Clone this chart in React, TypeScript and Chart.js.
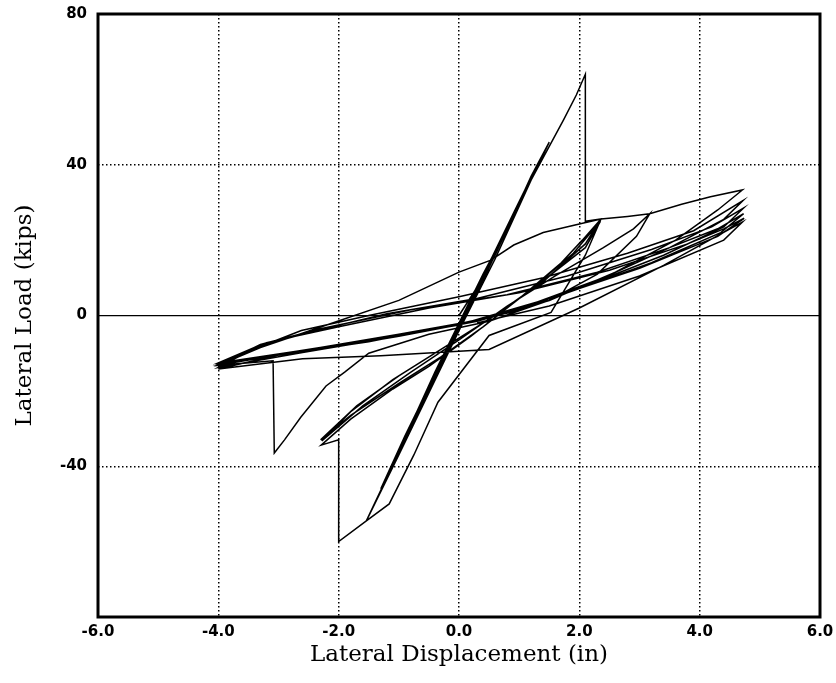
import React, { useEffect, useRef } from "react";
import { Chart, registerables } from "chart.js";

Chart.register(...registerables);

// Axis ticks
const xTickValues = [-6, -4, -2, 0, 2, 4, 6];
const yTickValues = [-80, -40, 0, 40, 80];
const hiddenYTick = -80;

// Lateral displacement (in), lateral load (kips) pairs, in loading order
const elasticCycles: [number, number][] = [
  [0, 0], [0.4, 10], [0.8, 23], [0.4, 11], [0, -2], [-0.4, -15], [-0.8, -29], [-0.4, -16], [0, -3],
  [0.5, 13], [1.1, 33], [1.3, 40], [0.9, 27], [0.2, 4], [-0.5, -19], [-1.1, -39], [-1.3, -46], [-0.9, -32], [-0.1, -6],
  [0.6, 16], [1.2, 37], [1.5, 46], [1.1, 33], [0.3, 6], [-0.5, -20], [-1.2, -43], [-1.54, -54.5], [-1.0, -37], [0, -4],
];

const firstPeakCycle: [number, number][] = [
  [0.6, 15], [1.2, 36], [1.74, 52], [1.95, 58.5], [2.1, 64], [2.1, 25], [2.36, 25.6],
  [2.1, 16], [1.53, 0.8], [0.5, -5.3], [-0.35, -23], [-0.75, -37], [-1.16, -50], [-1.54, -54.5],
  [-2.0, -60], [-2.0, -33], [-2.29, -34.4],
];

const secondCycles: [number, number][] = [
  [-1.8, -27.5], [-1.1, -19.5], [-0.5, -13.5], [0.2, -5.5], [1.0, 4.5], [1.7, 14], [2.05, 20], [2.36, 25.6],
  [2.1, 19], [1.4, 9], [0.6, 0], [-0.2, -8], [-1.0, -16], [-1.7, -24], [-2.3, -33],
  [-1.8, -26.5], [-1.0, -18], [-0.3, -11], [0.4, -3], [1.2, 7], [1.9, 16.5], [2.35, 25],
  [2.1, 18], [1.3, 8], [0.5, -1], [-0.3, -9], [-1.1, -17], [-1.8, -25.5], [-2.28, -33.3],
];

const thirdCycle: [number, number][] = [
  [-1.6, -24], [-0.8, -15], [0, -6.5], [0.8, 2.5], [1.6, 10.5], [2.4, 18], [2.9, 23], [3.17, 27],
  [2.95, 21], [2.3, 11], [1.5, 4], [0.5, -1.5], [-0.5, -5], [-1.5, -10], [-1.9, -15], [-2.21, -18.7],
  [-2.63, -27], [-2.9, -33], [-3.07, -36.5], [-3.09, -12], [-4.0, -13.2],
];

const largeCycles: [number, number][] = [
  [-3.3, -8.5], [-2.2, -2.5], [-1.0, 4], [0, 11.5], [0.53, 14.7], [0.91, 18.7], [1.4, 22], [2.0, 24.3],
  [2.36, 25.6], [2.8, 26.3], [3.17, 27], [3.7, 29.5], [4.18, 31.5], [4.71, 33.3],
  [4.3, 28], [3.6, 20], [2.6, 11.5], [1.5, 4], [0.3, -1.5], [-1.0, -5.5], [-2.6, -9.8], [-4.0, -13.8],
  [-3.5, -9.5], [-2.62, -4], [-1.5, 0], [0, 5], [1.4, 10], [2.8, 16.5], [3.9, 22.5], [4.72, 30.5],
  [4.4, 25.5], [3.5, 18], [2.4, 10], [1.2, 3], [0, -2.5], [-1.3, -6], [-2.7, -9.5], [-4.0, -12.6],
  [-3.4, -8.5], [-2.5, -4.5], [-1.2, 0.5], [0.3, 4.5], [1.8, 10.5], [3.2, 17.5], [4.2, 23.5], [4.73, 28.5],
  [4.4, 23.5], [3.4, 16], [2.2, 8.5], [0.9, 1], [-0.5, -4], [-2.0, -8], [-3.2, -11], [-4.0, -13.2],
  [-3.3, -7.7], [-2.3, -3.5], [-0.8, 1.5], [0.8, 5.5], [2.3, 11.5], [3.5, 18], [4.3, 23], [4.73, 27],
  [4.35, 22], [3.2, 14], [1.8, 6], [0.4, -1], [-1.0, -5], [-2.5, -9], [-3.5, -11.5], [-4.0, -12.9],
  [-3.2, -7.2], [-2.0, -3], [-0.5, 2], [1.0, 6], [2.5, 12], [3.8, 19], [4.4, 23], [4.74, 25.8],
  [4.3, 21], [3.0, 12.5], [1.6, 5], [0.2, -1.5], [-1.5, -7], [-3.0, -10.5], [-4.0, -14.2],
  [-2.6, -11.5], [-1.3, -10.7], [0.5, -9], [2.0, 2], [3.4, 13.3], [4.71, 24.8],
  [4.4, 20], [3.0, 10.5], [1.5, 2.5], [0.3, -2],
];

const loadPath = [
  ...elasticCycles,
  ...firstPeakCycle,
  ...secondCycles,
  ...thirdCycle,
  ...largeCycles,
];

const frameBorder = {
  id: "frameBorder",
  afterDraw(chart: any) {
    const { ctx, chartArea } = chart;
    ctx.save();
    ctx.strokeStyle = "#000";
    ctx.lineWidth = 3;
    ctx.strokeRect(
      chartArea.left,
      chartArea.top,
      chartArea.right - chartArea.left,
      chartArea.bottom - chartArea.top
    );
    ctx.restore();
  },
};

export default function App() {
  const canvasRef = useRef<HTMLCanvasElement | null>(null);

  useEffect(() => {
    if (!canvasRef.current) return;
    const chart = new Chart(canvasRef.current, {
      type: "scatter",
      data: {
        datasets: [
          {
            data: loadPath.map(([x, y]) => ({ x, y })),
            showLine: true,
            borderColor: "#000",
            borderWidth: 1.5,
            pointRadius: 0,
            tension: 0,
            fill: false,
          },
        ],
      },
      options: {
        animation: false,
        responsive: true,
        maintainAspectRatio: false,
        layout: { padding: { left: 0, top: 14, right: 16, bottom: 0 } },
        plugins: {
          legend: { display: false },
          tooltip: { enabled: false },
        },
        scales: {
          x: {
            type: "linear",
            min: -6,
            max: 6,
            afterBuildTicks: (scale: any) => {
              scale.ticks = xTickValues.map((v) => ({ value: v }));
            },
            afterFit: (scale: any) => {
              scale.height = 66;
              scale.paddingLeft = 0;
              scale.paddingRight = 0;
            },
            ticks: {
              color: "#000",
              padding: 6,
              maxRotation: 0,
              font: { family: "DejaVu Sans", size: 15, weight: "bold" },
              callback: (v: any) => Number(v).toFixed(1),
            },
            grid: {
              drawTicks: false,
              color: "#000",
              lineWidth: 1.5,
            },
            border: { display: false, dash: [1.5, 2.5] },
            title: {
              display: true,
              text: "Lateral Displacement (in)",
              color: "#000",
              font: { family: "DejaVu Serif", size: 23 },
              padding: { top: 0, bottom: 14 },
            },
          },
          y: {
            type: "linear",
            min: -80,
            max: 80,
            afterBuildTicks: (scale: any) => {
              scale.ticks = yTickValues.map((v) => ({ value: v }));
            },
            afterFit: (scale: any) => {
              scale.width = 98;
              scale.paddingTop = 0;
              scale.paddingBottom = 0;
            },
            ticks: {
              color: "#000",
              padding: 11,
              font: { family: "DejaVu Sans", size: 15, weight: "bold" },
              callback: (v: any) => (Number(v) === hiddenYTick ? "" : String(v)),
            },
            grid: {
              drawTicks: false,
              color: "#000",
              lineWidth: (ctx: any) => (ctx.tick && ctx.tick.value === 0 ? 1.2 : 1.5),
            },
            border: {
              display: false,
              dash: (ctx: any) => (ctx.tick && ctx.tick.value === 0 ? [] : [1.5, 2.5]),
            },
            title: {
              display: true,
              text: "Lateral Load (kips)",
              color: "#000",
              font: { family: "DejaVu Serif", size: 23 },
              padding: { top: 11, bottom: 0 },
            },
          },
        },
      },
      plugins: [frameBorder],
    });
    return () => chart.destroy();
  }, []);

  return (
    <div
      style={{
        position: "fixed",
        left: 0,
        top: 0,
        width: 836,
        height: 683,
        background: "#fff",
      }}
    >
      <canvas ref={canvasRef} />
    </div>
  );
}
